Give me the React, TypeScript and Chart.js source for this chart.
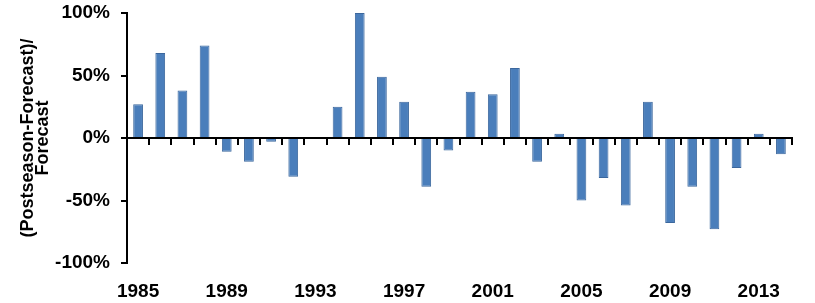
import React, { useEffect, useRef } from "react";
import { Chart, registerables } from "chart.js";

Chart.register(...registerables);

const years: string[] = [
  "1985", "1986", "1987", "1988", "1989", "1990", "1991", "1992", "1993", "1994",
  "1995", "1996", "1997", "1998", "1999", "2000", "2001", "2002", "2003", "2004",
  "2005", "2006", "2007", "2008", "2009", "2010", "2011", "2012", "2013", "2014",
];

const deviation: number[] = [
  27, 68, 38, 74, -11, -19, -3, -31, 0, 25,
  100, 49, 29, -39, -10, 37, 35, 56, -19, 3.5,
  -50, -32, -54, 29, -68, -39, -73, -24, 3.5, -13,
];

const yTicks: number[] = [-100, -50, 0, 50, 100];
const yTitle: string[] = ["(Postseason-Forecast)/", "Forecast"];

const FONT = "'Liberation Sans', Arial, sans-serif";

export default function App() {
  const ref = useRef<HTMLCanvasElement | null>(null);

  useEffect(() => {
    document.body.style.margin = "0";
    const canvas = ref.current;
    if (!canvas) return;
    const chart = new Chart(canvas, {
      type: "bar",
      data: {
        labels: years,
        datasets: [
          {
            data: deviation,
            backgroundColor: "#4a7ebb",
            borderColor: "#3b679d",
            borderWidth: 1,
            categoryPercentage: 1,
            barPercentage: 0.44,
            xAxisID: "x",
            yAxisID: "y",
          },
        ],
      },
      options: {
        animation: false,
        responsive: true,
        maintainAspectRatio: false,
        layout: { padding: { top: 13, right: 23, bottom: 0, left: 0 } },
        plugins: { legend: { display: false }, tooltip: { enabled: false } },
        scales: {
          x: {
            type: "category",
            position: { y: 0 } as any,
            offset: true,
            grid: {
              display: true,
              drawOnChartArea: false,
              drawTicks: true,
              tickLength: 6,
              color: "#000",
              lineWidth: 2,
              offset: true,
            },
            border: { display: true, color: "#000", width: 2 },
            ticks: { display: false },
            afterFit: (scale: any) => {
              scale.height = 0;
              scale.paddingLeft = 0;
              scale.paddingRight = 0;
            },
          },
          x2: {
            type: "category",
            position: "bottom",
            offset: true,
            grid: { display: false },
            border: { display: false },
            ticks: {
              autoSkip: false,
              maxRotation: 0,
              minRotation: 0,
              padding: 9,
              color: "#000",
              font: { family: FONT, size: 19, weight: "bold" },
              callback: (_v: any, i: number) => (i % 4 === 0 ? years[i] : ""),
            },
            afterFit: (scale: any) => {
              scale.height = 40;
              scale.paddingLeft = 0;
              scale.paddingRight = 0;
            },
          },
          y: {
            type: "linear",
            position: "left",
            min: -100,
            max: 100,
            afterBuildTicks: (scale: any) => {
              scale.ticks = yTicks.map((v) => ({ value: v }));
            },
            grid: {
              display: true,
              drawOnChartArea: false,
              drawTicks: true,
              tickLength: 6,
              color: "#000",
              lineWidth: 2,
            },
            border: { display: true, color: "#000", width: 2 },
            ticks: {
              padding: 11,
              color: "#000",
              font: { family: FONT, size: 19, weight: "bold" },
              callback: (v: any) => `${v}%`,
            },
            title: {
              display: true,
              text: yTitle,
              color: "#000",
              font: { family: FONT, size: 18, weight: "bold", lineHeight: 0.8 },
              padding: { top: 21, bottom: 0 },
            },
            afterFit: (scale: any) => {
              scale.width = 127;
              scale.paddingTop = 0;
              scale.paddingBottom = 0;
            },
          },
        },
      },
    });
    return () => chart.destroy();
  }, []);

  return (
    <div style={{ position: "fixed", left: 0, top: 0, width: 815, height: 303 }}>
      <canvas ref={ref} />
    </div>
  );
}
